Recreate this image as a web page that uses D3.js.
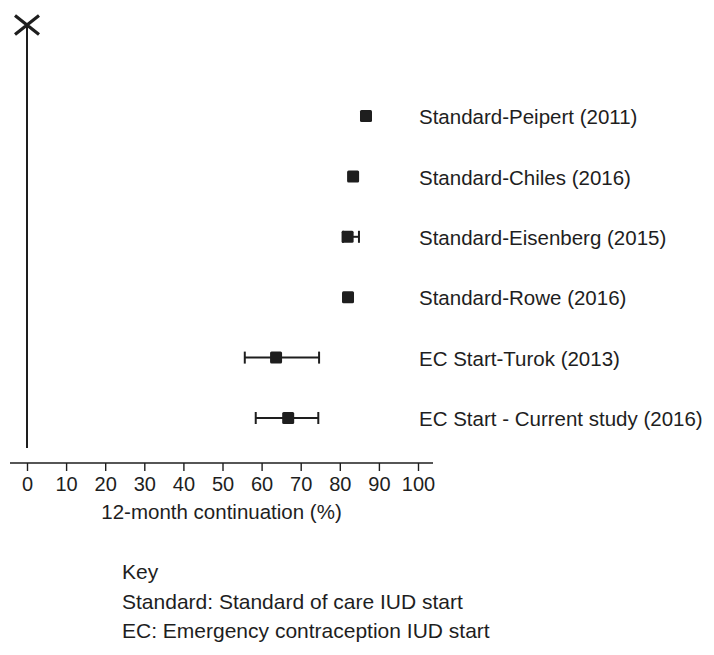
<!DOCTYPE html>
<html>
<head>
<meta charset="utf-8">
<script src="https://cdn.jsdelivr.net/npm/d3@7"></script>
<style>
  body { margin: 0; background: #fff; }
  svg { font-family: "Liberation Sans", Arial, sans-serif; }
</style>
</head>
<body>
<svg id="chart"></svg>
<script>
// studies top to bottom
const studies = ["Standard-Peipert (2011)", "Standard-Chiles (2016)", "Standard-Eisenberg (2015)",
  "Standard-Rowe (2016)", "EC Start-Turok (2013)", "EC Start - Current study (2016)"]
const estimate = [86.7, 83.4, 82.0, 82.1, 63.7, 66.8]
const lower = [86.7, 83.4, 80.8, 82.1, 55.7, 58.5]
const upper = [86.7, 83.4, 84.9, 82.1, 74.7, 74.5]
const xTicks = [0, 10, 20, 30, 40, 50, 60, 70, 80, 90, 100]
const keyLines = ["Key", "Standard: Standard of care IUD start", "EC: Emergency contraception IUD start"]

const width = 714, height = 655
const ink = "#1e1e1e"

const svg = d3.select("#chart").attr("width", width).attr("height", height)

const x = d3.scaleLinear().domain([0, 100]).range([27, 418])
const y = d3.scalePoint().domain(studies).range([116, 418])

const data = studies.map((s, i) => ({ study: s, est: estimate[i], lo: lower[i], hi: upper[i] }))

// null line at 0 with the cross marker on top
svg.append("line")
  .attr("x1", x(0)).attr("x2", x(0))
  .attr("y1", 25).attr("y2", 448)
  .attr("stroke", ink).attr("stroke-width", 2)

const cx = x(0), cy = 25, r = 12
svg.append("path")
  .attr("d", `M${cx - r},${cy - r * 0.8}L${cx + r},${cy + r * 0.8}M${cx + r},${cy - r * 0.8}L${cx - r},${cy + r * 0.8}`)
  .attr("stroke", ink).attr("stroke-width", 3.2).attr("fill", "none")

// x axis
const axisY = 463
svg.append("line")
  .attr("x1", 10).attr("x2", 433)
  .attr("y1", axisY).attr("y2", axisY)
  .attr("stroke", ink).attr("stroke-width", 1.6)

const xAxis = svg.append("g")
  .attr("transform", `translate(0,${axisY})`)
  .call(d3.axisBottom(x).tickValues(xTicks).tickSize(8).tickPadding(6).tickFormat(d3.format("d")))
xAxis.select(".domain").remove()
xAxis.selectAll(".tick line").attr("stroke", ink).attr("stroke-width", 1.4)
xAxis.selectAll(".tick text")
  .attr("fill", ink).attr("font-size", 20).attr("font-family", "Liberation Sans, Arial, sans-serif")

svg.append("text")
  .attr("x", x(50) - 1).attr("y", 519)
  .attr("text-anchor", "middle")
  .attr("font-size", 20.5).attr("fill", ink)
  .text("12-month continuation (%)")

// confidence intervals
const ci = svg.selectAll(".ci")
  .data(data.filter(d => d.hi - d.lo > 0.5))
  .enter().append("g").attr("class", "ci")

ci.append("line")
  .attr("x1", d => x(d.lo)).attr("x2", d => x(d.hi))
  .attr("y1", d => y(d.study)).attr("y2", d => y(d.study))
  .attr("stroke", ink).attr("stroke-width", 2)

ci.selectAll(".cap")
  .data(d => [d.lo, d.hi].map(v => ({ v, study: d.study })))
  .enter().append("line")
  .attr("x1", d => x(d.v)).attr("x2", d => x(d.v))
  .attr("y1", d => y(d.study) - 6).attr("y2", d => y(d.study) + 6)
  .attr("stroke", ink).attr("stroke-width", 2)

// point estimates
const sq = 12
svg.selectAll(".pt")
  .data(data)
  .enter().append("rect")
  .attr("class", "pt")
  .attr("x", d => x(d.est) - sq / 2)
  .attr("y", d => y(d.study) - sq / 2)
  .attr("width", sq).attr("height", sq)
  .attr("rx", 1.5)
  .attr("fill", ink)

// study labels
svg.selectAll(".lab")
  .data(data)
  .enter().append("text")
  .attr("class", "lab")
  .attr("x", 419)
  .attr("y", d => y(d.study) + 1)
  .attr("dy", "0.35em")
  .attr("font-size", 20.5).attr("fill", ink)
  .text(d => d.study)

// key
svg.selectAll(".key")
  .data(keyLines)
  .enter().append("text")
  .attr("class", "key")
  .attr("x", 122)
  .attr("y", (d, i) => 572 + i * 29.5)
  .attr("dy", "0.35em")
  .attr("font-size", 21).attr("fill", ink)
  .text(d => d)
</script>
</body>
</html>
